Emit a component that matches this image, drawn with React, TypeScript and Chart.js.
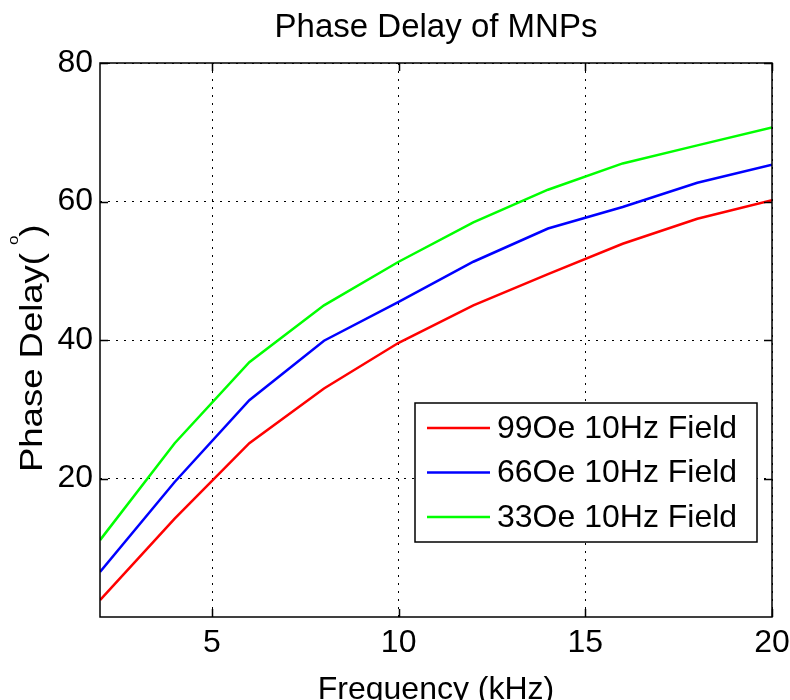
import React, { useEffect, useRef } from 'react';
import { Chart, registerables } from 'chart.js';
Chart.register(...registerables);

const frequencies = [2, 4, 6, 8, 10, 12, 14, 16, 18, 20];
const field99 = [2.45, 14.2, 25.1, 33.0, 39.6, 45.0, 49.5, 53.9, 57.5, 60.2];
const field66 = [6.5, 19.5, 31.3, 39.9, 45.5, 51.3, 56.1, 59.2, 62.7, 65.3];
const field33 = [11.1, 25.1, 36.8, 45.0, 51.3, 57.0, 61.7, 65.5, 68.1, 70.7];
const seriesLabels = ['99Oe 10Hz Field', '66Oe 10Hz Field', '33Oe 10Hz Field'];
const seriesColors = ['#ff0000', '#0000ff', '#00ff00'];
const xTicks = [5, 10, 15, 20];
const yTicks = [20, 40, 60, 80];
const titleText = 'Phase Delay of MNPs';
const xTitle = 'Frequency (kHz)';

const FONT = '"Liberation Sans", Arial, Helvetica, sans-serif';

const framePlugin = {
  id: 'frame',
  afterDatasetsDraw(chart: any) {
    const { ctx, chartArea, scales } = chart;
    const { left, right, top, bottom } = chartArea;
    const xs = scales.x;
    const ys = scales.y;
    ctx.save();
    ctx.setLineDash([]);
    ctx.strokeStyle = '#000';
    ctx.lineWidth = 1.5;
    ctx.beginPath();
    xTicks.forEach((v) => {
      const px = Math.round(xs.getPixelForValue(v)) + 0.5;
      ctx.moveTo(px, bottom);
      ctx.lineTo(px, bottom - 8);
      ctx.moveTo(px, top);
      ctx.lineTo(px, top + 8);
    });
    yTicks.forEach((v) => {
      const py = Math.round(ys.getPixelForValue(v)) + 0.5;
      ctx.moveTo(left, py);
      ctx.lineTo(left + 8, py);
      ctx.moveTo(right, py);
      ctx.lineTo(right - 8, py);
    });
    ctx.stroke();
    ctx.strokeRect(left, top, right - left, bottom - top);

    // legend box
    const bw = 342;
    const bh = 139;
    const bx = right - 15 - bw;
    const by = bottom - 75 - bh;
    ctx.fillStyle = '#fff';
    ctx.fillRect(bx, by, bw, bh);
    ctx.lineWidth = 1.5;
    ctx.strokeRect(bx, by, bw, bh);
    ctx.font = `32px ${FONT}`;
    ctx.textBaseline = 'middle';
    ctx.textAlign = 'left';
    chart.data.datasets.forEach((ds: any, i: number) => {
      const ry = by + 25 + i * 44.5;
      ctx.strokeStyle = ds.borderColor;
      ctx.lineWidth = 2.5;
      ctx.beginPath();
      ctx.moveTo(bx + 12, ry);
      ctx.lineTo(bx + 75, ry);
      ctx.stroke();
      ctx.fillStyle = '#000';
      ctx.fillText(ds.label, bx + 82, ry + 1);
    });
    ctx.restore();
  },
  afterDraw(chart: any) {
    const { ctx, chartArea } = chart;
    const { left, right } = chartArea;
    ctx.save();
    ctx.fillStyle = '#000';
    ctx.textBaseline = 'alphabetic';
    ctx.textAlign = 'center';
    ctx.font = `33px ${FONT}`;
    ctx.fillText(titleText, (left + right) / 2, 37);
    ctx.font = `32px ${FONT}`;
    ctx.fillText(xTitle, (left + right) / 2, 699);

    // y title with superscript, stretched along its length like the reference
    const main1 = 'Phase Delay(';
    const sup = 'o';
    const close = ')';
    const stretch = 1.14;
    ctx.font = `32px ${FONT}`;
    const w1 = ctx.measureText(main1).width;
    ctx.font = `15px ${FONT}`;
    const w2 = ctx.measureText(sup).width;
    ctx.translate(42, 472);
    ctx.rotate(-Math.PI / 2);
    ctx.scale(stretch, 1);
    ctx.textAlign = 'left';
    let x0 = 0;
    ctx.font = `32px ${FONT}`;
    ctx.fillText(main1, x0, 0);
    x0 += w1 + 7;
    ctx.font = `15px ${FONT}`;
    ctx.fillText(sup, x0, -24);
    x0 += w2 - 1;
    ctx.font = `32px ${FONT}`;
    ctx.fillText(close, x0, 0);
    ctx.restore();
  },
};

export default function App() {
  const ref = useRef<HTMLCanvasElement | null>(null);
  useEffect(() => {
    if (!ref.current) return;
    const mk = (vals: number[]) => frequencies.map((x, i) => ({ x, y: vals[i] }));
    const allSeries = [field99, field66, field33];
    const chart = new Chart(ref.current, {
      type: 'line',
      data: {
        datasets: allSeries.map((vals, i) => ({
          label: seriesLabels[i],
          data: mk(vals),
          borderColor: seriesColors[i],
          backgroundColor: seriesColors[i],
          borderWidth: 2.5,
          pointRadius: 0,
          tension: 0,
          fill: false,
        })),
      },
      options: {
        animation: false,
        responsive: false,
        devicePixelRatio: 1,
        layout: { padding: { left: 0, right: 18, top: 63, bottom: 0 } },
        plugins: {
          legend: { display: false },
          tooltip: { enabled: false },
          title: { display: false },
        },
        scales: {
          x: {
            type: 'linear',
            min: 2,
            max: 20,
            afterBuildTicks: (axis: any) => {
              axis.ticks = xTicks.map((v) => ({ value: v }));
            },
            afterFit: (s: any) => {
              s.height = 83;
              s.paddingLeft = 0;
              s.paddingRight = 0;
            },
            ticks: {
              color: '#000',
              font: { family: FONT, size: 32 },
              padding: 7,
              maxRotation: 0,
              autoSkip: false,
            },
            grid: { color: '#000', lineWidth: 1, drawTicks: false },
            border: { display: false, dash: [2, 6] },
          },
          y: {
            type: 'linear',
            min: 0,
            max: 80,
            afterBuildTicks: (axis: any) => {
              axis.ticks = yTicks.map((v) => ({ value: v }));
            },
            afterFit: (s: any) => {
              s.width = 100;
              s.paddingTop = 0;
              s.paddingBottom = 0;
            },
            ticks: {
              color: '#000',
              font: { family: FONT, size: 32 },
              padding: 7,
              autoSkip: false,
            },
            grid: { color: '#000', lineWidth: 1, drawTicks: false },
            border: { display: false, dash: [2, 6] },
          },
        },
      },
      plugins: [framePlugin],
    } as any);
    return () => chart.destroy();
  }, []);
  return (
    <div style={{ position: 'fixed', left: 0, top: 0, width: 790, height: 700, background: '#fff' }}>
      <canvas ref={ref} width={790} height={700} style={{ display: 'block' }} />
    </div>
  );
}
